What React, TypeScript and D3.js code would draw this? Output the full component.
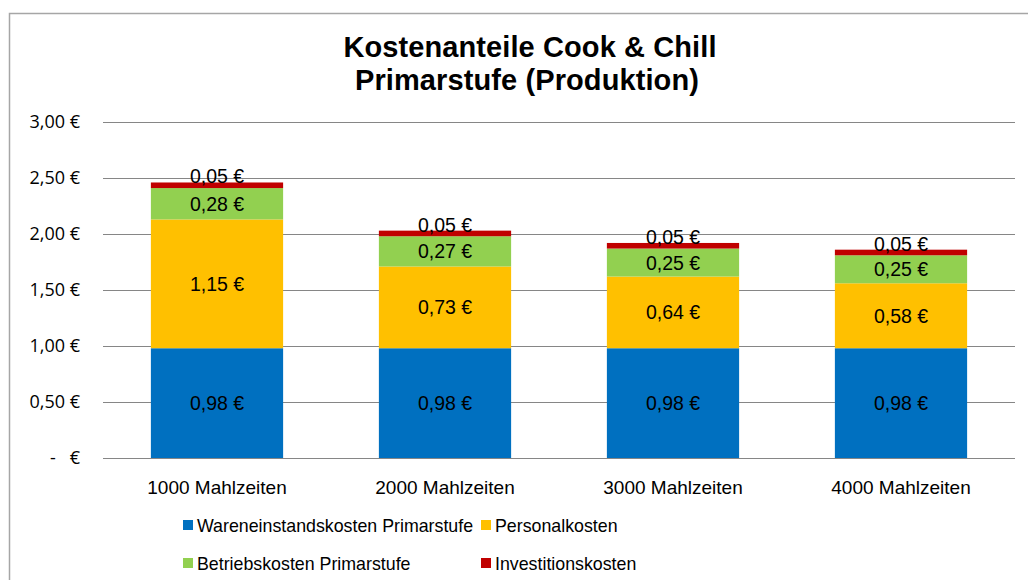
import React, { useEffect, useRef } from "react";
import * as d3 from "d3";

const categories = ["1000 Mahlzeiten", "2000 Mahlzeiten", "3000 Mahlzeiten", "4000 Mahlzeiten"];
const seriesNames = [
  "Wareneinstandskosten Primarstufe",
  "Personalkosten",
  "Betriebskosten Primarstufe",
  "Investitionskosten",
];
const wareneinstand = [0.98, 0.98, 0.98, 0.98];
const personal = [1.15, 0.73, 0.64, 0.58];
const betrieb = [0.28, 0.27, 0.25, 0.25];
const investition = [0.05, 0.05, 0.05, 0.05];
const yTicks = [0, 0.5, 1, 1.5, 2, 2.5, 3];

const colors = ["#0070C0", "#FFC000", "#92D050", "#C00000"];
const font = "'Liberation Sans', Arial, sans-serif";

const fmt = (v: number) => (v === 0 ? "-   €" : d3.format(".2f")(v).replace(".", ",") + " €");

const App: React.FC = () => {
  const ref = useRef<SVGSVGElement | null>(null);

  useEffect(() => {
    if (!ref.current) return;
    const svg = d3.select(ref.current);
    svg.selectAll("*").remove();

    const width = 1028;
    const height = 580;
    const margin = { top: 122, left: 103, right: 13, bottom: 122 };
    const plotH = height - margin.top - margin.bottom;

    // outer chart border
    svg
      .append("rect")
      .attr("x", 9.5)
      .attr("y", 13.5)
      .attr("width", 1040)
      .attr("height", 620)
      .attr("fill", "white")
      .attr("stroke", "#a6a6a6")
      .attr("stroke-width", 1.5);

    // title
    const title = svg
      .append("text")
      .attr("text-anchor", "middle")
      .attr("font-family", font)
      .attr("font-weight", "bold")
      .attr("font-size", 29)
      .attr("letter-spacing", 0.1)
      .attr("fill", "#000");
    title.append("tspan").attr("x", 530).attr("y", 57).text("Kostenanteile Cook & Chill");
    title.append("tspan").attr("x", 527).attr("y", 90).text("Primarstufe (Produktion)");

    const x = d3
      .scaleBand<string>()
      .domain(categories)
      .range([margin.left, width - margin.right])
      .paddingInner(0.42)
      .paddingOuter(0.21);

    const y = d3.scaleLinear().domain([0, 3]).range([margin.top + plotH, margin.top]);

    // gridlines
    svg
      .append("g")
      .selectAll("line")
      .data(yTicks)
      .enter()
      .append("line")
      .attr("x1", margin.left)
      .attr("x2", width - margin.right)
      .attr("y1", (d) => Math.round(y(d)) + 0.5)
      .attr("y2", (d) => Math.round(y(d)) + 0.5)
      .attr("stroke", "#868686")
      .attr("stroke-width", 1.2);

    // y tick labels
    svg
      .append("g")
      .selectAll("text")
      .data(yTicks)
      .enter()
      .append("text")
      .attr("x", 80)
      .attr("y", (d) => y(d) + 6)
      .attr("text-anchor", "end")
      .attr("font-family", "'Open Sans', sans-serif")
      .attr("font-size", 18)
      .style("white-space", "pre")
      .text((d) => fmt(d));

    const table = categories.map((c, i) => ({
      cat: c,
      values: [wareneinstand[i], personal[i], betrieb[i], investition[i]],
    }));

    const stack = d3.stack<{ cat: string; values: number[] }, number>()
      .keys([0, 1, 2, 3])
      .value((d, k) => d.values[k]);
    const stacked = stack(table);

    const layers = svg
      .append("g")
      .selectAll("g")
      .data(stacked)
      .enter()
      .append("g")
      .attr("fill", (d, i) => colors[i]);

    layers
      .selectAll("rect")
      .data((d) => d)
      .enter()
      .append("rect")
      .attr("x", (d) => x(d.data.cat)!)
      .attr("width", x.bandwidth())
      .attr("y", (d) => y(d[1]))
      .attr("height", (d) => y(d[0]) - y(d[1]));

    // data labels
    stacked.forEach((layer, li) => {
      svg
        .append("g")
        .selectAll("text")
        .data(layer)
        .enter()
        .append("text")
        .attr("x", (d) => x(d.data.cat)! + x.bandwidth() / 2)
        .attr("y", (d) => (li === 3 ? y(d[1]) - 6 : (y(d[0]) + y(d[1])) / 2) + 7)
        .attr("text-anchor", "middle")
        .attr("font-family", font)
        .attr("font-size", 19.5)
        .attr("fill", "#000")
        .text((d) => fmt(d[1] - d[0]));
    });

    // category labels
    svg
      .append("g")
      .selectAll("text")
      .data(categories)
      .enter()
      .append("text")
      .attr("x", (d) => x(d)! + x.bandwidth() / 2)
      .attr("y", 494)
      .attr("text-anchor", "middle")
      .attr("font-family", font)
      .attr("font-size", 19)
      .text((d) => d);

    // legend
    const legendPos = [
      { x: 183, y: 525 },
      { x: 481, y: 525 },
      { x: 183, y: 563 },
      { x: 481, y: 563 },
    ];
    const legend = svg
      .append("g")
      .selectAll("g")
      .data(seriesNames)
      .enter()
      .append("g")
      .attr("transform", (d, i) => `translate(${legendPos[i].x},${legendPos[i].y})`);
    legend
      .append("rect")
      .attr("x", 0)
      .attr("y", -5)
      .attr("width", 10)
      .attr("height", 10)
      .attr("fill", (d, i) => colors[i]);
    legend
      .append("text")
      .attr("x", 14)
      .attr("y", 7)
      .attr("font-family", font)
      .attr("font-size", 17.8)
      .text((d) => d);
  }, []);

  return (
    <div style={{ position: "absolute", left: 0, top: 0 }}>
      <svg ref={ref} width={1028} height={580}></svg>
    </div>
  );
};

export default App;
